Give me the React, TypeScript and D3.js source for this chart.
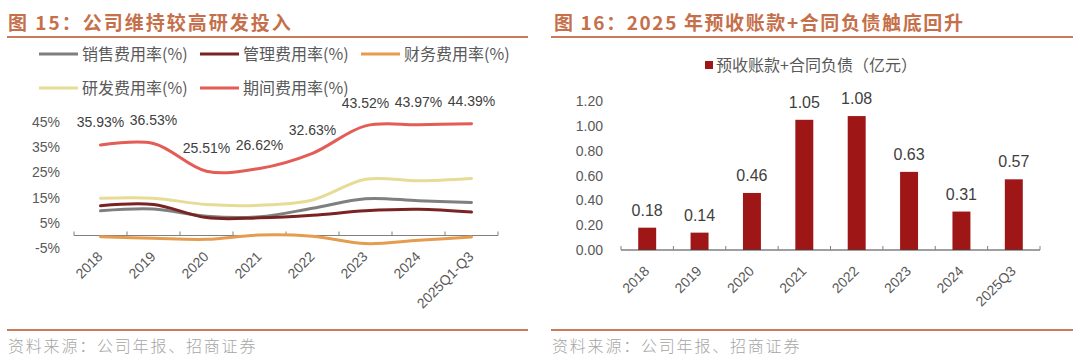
import React from "react";
import * as d3 from "d3";

const yearsL = ["2018", "2019", "2020", "2021", "2022", "2023", "2024", "2025Q1-Q3"];
const salesRate = [9.8, 10.5, 7.6, 7.4, 10.8, 14.6, 13.8, 13.1];
const mgmtRate = [11.8, 12.3, 7.1, 7.0, 8.0, 9.8, 10.4, 9.3];
const finRate = [-0.5, -1.1, -1.5, 0.2, -0.3, -3.2, -1.9, -0.6];
const rdRate = [14.8, 14.8, 12.3, 12.0, 14.1, 22.3, 21.7, 22.6];
const periodRate = [35.93, 36.53, 25.51, 26.62, 32.63, 43.52, 43.97, 44.39];
const yTicksL = [-5, 5, 15, 25, 35, 45];

const yearsR = ["2018", "2019", "2020", "2021", "2022", "2023", "2024", "2025Q3"];
const advance = [0.18, 0.14, 0.46, 1.05, 1.08, 0.63, 0.31, 0.57];
const yTicksR = [0, 0.2, 0.4, 0.6, 0.8, 1.0, 1.2];

const FONT = '"Liberation Sans", Arial, "Noto Sans CJK SC", sans-serif';
const CJK = '"Noto Sans CJK SC", "Liberation Sans", sans-serif';
const TITLE_C = "#c5704b";
const LINE_C = "#c97b5b";
const TXT = "#595959";
const AXIS = "#808080";

const seriesL = [
  { name: "销售费用率(%)", data: salesRate, color: "#7f7f7f", lx: 39, ly: 54 },
  { name: "管理费用率(%)", data: mgmtRate, color: "#7a2323", lx: 200, ly: 54 },
  { name: "财务费用率(%)", data: finRate, color: "#e59c4f", lx: 361, ly: 54 },
  { name: "研发费用率(%)", data: rdRate, color: "#e6dc95", lx: 39, ly: 88 },
  { name: "期间费用率(%)", data: periodRate, color: "#e35d56", lx: 200, ly: 88 },
];

export default function App() {
  // left chart scales
  const xL = d3.scaleBand<string>().domain(yearsL).range([74, 498]);
  const yL = d3.scaleLinear().domain([-5, 45]).range([248.1, 122.1]);
  const cxL = (c: string) => (xL(c) as number) + xL.bandwidth() / 2;
  const y0L = yL(0);
  const lineGen = (data: number[]) =>
    d3
      .line<number>()
      .x((_, i) => cxL(yearsL[i]))
      .y((v) => yL(v))
      .curve(d3.curveCatmullRom.alpha(0.5))(data) as string;

  // right chart scales
  const xR = d3.scaleBand<string>().domain(yearsR).range([621, 1040]).paddingInner(0.657).paddingOuter(0.3285);
  const xRt = d3.scaleBand<string>().domain(yearsR).range([621, 1040]);
  const yR = d3.scaleLinear().domain([0, 1.2]).range([250, 101.2]);
  const y0R = yR(0);

  const drawOrder = [seriesL[3], seriesL[0], seriesL[1], seriesL[2], seriesL[4]];

  return (
    <svg
      width={1080}
      height={361}
      style={{ position: "absolute", left: 0, top: 0, background: "#fff" }}
      fontFamily={FONT}
    >
      {/* ===== Left panel ===== */}
      <text x={8} y={30} fontFamily={CJK} fontWeight={700} fontSize={19} letterSpacing={2} fill={TITLE_C}>
        图 15：公司维持较高研发投入
      </text>
      <line x1={7} x2={528} y1={37} y2={37} stroke={LINE_C} strokeWidth={2} />

      {seriesL.map((s) => (
        <g key={s.name}>
          <line x1={s.lx} x2={s.lx + 39} y1={s.ly} y2={s.ly} stroke={s.color} strokeWidth={3} />
          <text x={s.lx + 43} y={s.ly} dy="0.35em" fontFamily={CJK} fontSize={16} fill={TXT}>
            {s.name}
          </text>
        </g>
      ))}

      {yTicksL.map((t) => (
        <text key={t} x={60} y={yL(t)} dy="0.35em" textAnchor="end" fontSize={14} fill={TXT}>
          {t}%
        </text>
      ))}

      <line x1={74} x2={498} y1={y0L} y2={y0L} stroke={AXIS} strokeWidth={1} />
      {[...yearsL.map((c) => xL(c) as number), 498].map((x, i) => (
        <line key={i} x1={x} x2={x} y1={y0L - 4} y2={y0L} stroke={AXIS} strokeWidth={1} />
      ))}
      {yearsL.map((c) => (
        <text
          key={c}
          transform={`translate(${cxL(c) + 3},${y0L + 22}) rotate(-45)`}
          textAnchor="end"
          fontSize={14}
          fill={TXT}
        >
          {c}
        </text>
      ))}

      {drawOrder.map((s) => (
        <path key={s.name} d={lineGen(s.data)} fill="none" stroke={s.color} strokeWidth={3} strokeLinecap="round" />
      ))}

      {periodRate.map((v, i) => (
        <text key={i} x={cxL(yearsL[i])} y={yL(v) - 18} textAnchor="middle" fontSize={14} fill="#404040">
          {v.toFixed(2)}%
        </text>
      ))}

      <line x1={7} x2={528} y1={330} y2={330} stroke={LINE_C} strokeWidth={2} />
      <text x={8} y={346} dy="0.35em" fontFamily={CJK} fontWeight={300} fontSize={16} letterSpacing={1.8} fill="#a6a6a6">
        资料来源：公司年报、招商证券
      </text>

      {/* ===== Right panel ===== */}
      <text x={554} y={30} fontFamily={CJK} fontWeight={700} fontSize={19} letterSpacing={1.6} fill={TITLE_C}>
        图 16：2025 年预收账款+合同负债触底回升
      </text>
      <line x1={551} x2={1073} y1={37} y2={37} stroke={LINE_C} strokeWidth={2} />

      <rect x={705} y={61} width={8} height={8} fill="#9f1616" />
      <text x={716} y={65} dy="0.35em" fontFamily={CJK} fontSize={16} fill={TXT}>
        预收账款+合同负债（亿元）
      </text>

      {yTicksR.map((t) => (
        <text key={t} x={603} y={yR(t)} dy="0.35em" textAnchor="end" fontSize={14} fill={TXT}>
          {t.toFixed(2)}
        </text>
      ))}

      {yearsR.map((c, i) => (
        <rect
          key={c}
          x={xR(c) as number}
          y={yR(advance[i])}
          width={xR.bandwidth()}
          height={y0R - yR(advance[i])}
          fill="#9f1616"
        />
      ))}
      {yearsR.map((c, i) => (
        <text
          key={c}
          x={(xR(c) as number) + xR.bandwidth() / 2}
          y={yR(advance[i]) - 12}
          textAnchor="middle"
          fontSize={16}
          fill="#404040"
        >
          {advance[i].toFixed(2)}
        </text>
      ))}

      <line x1={621} x2={1040} y1={y0R} y2={y0R} stroke="#404040" strokeWidth={1} />
      {[...yearsR.map((c) => xRt(c) as number), 1040].map((x, i) => (
        <line key={i} x1={x} x2={x} y1={y0R - 4} y2={y0R} stroke={AXIS} strokeWidth={1} />
      ))}
      {yearsR.map((c) => (
        <text
          key={c}
          transform={`translate(${(xRt(c) as number) + xRt.bandwidth() / 2 + 3},${y0R + 22}) rotate(-45)`}
          textAnchor="end"
          fontSize={14}
          fill={TXT}
        >
          {c}
        </text>
      ))}

      <line x1={551} x2={1073} y1={330} y2={330} stroke={LINE_C} strokeWidth={2} />
      <text x={552} y={346} dy="0.35em" fontFamily={CJK} fontWeight={300} fontSize={16} letterSpacing={1.8} fill="#a6a6a6">
        资料来源：公司年报、招商证券
      </text>
    </svg>
  );
}
